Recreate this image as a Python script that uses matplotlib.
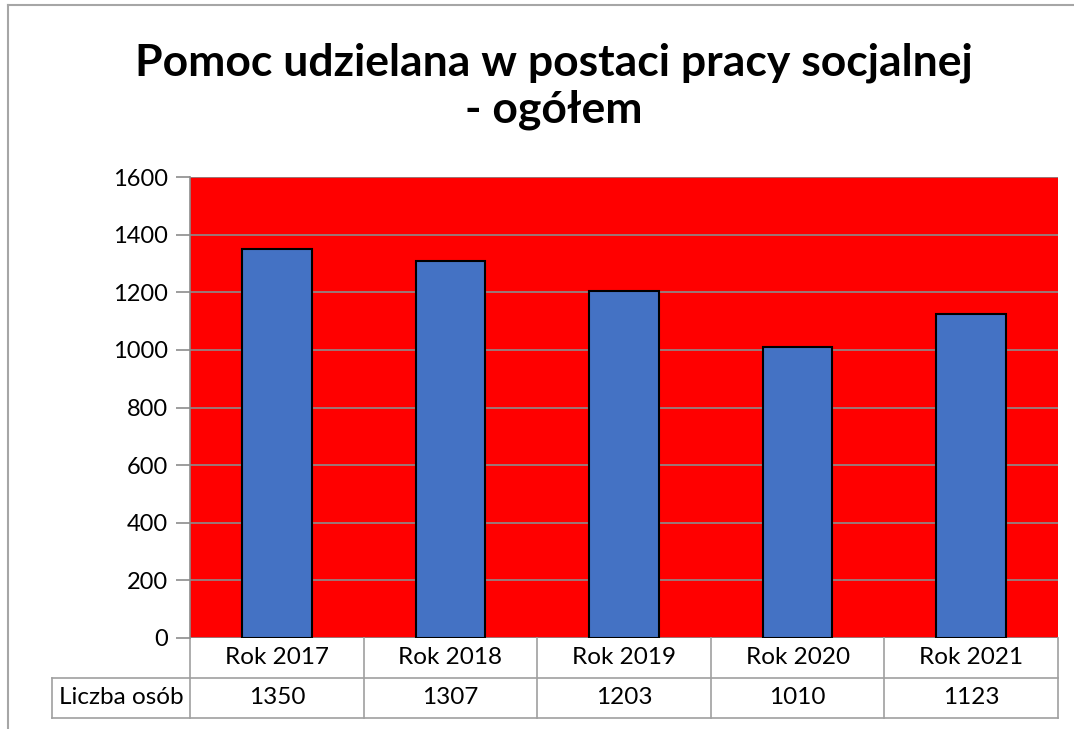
import matplotlib
matplotlib.use("Agg")
import matplotlib.pyplot as plt
from matplotlib.lines import Line2D

# dane
kategorie = ['Rok 2017', 'Rok 2018', 'Rok 2019', 'Rok 2020', 'Rok 2021']
liczba_osob = [1350, 1307, 1203, 1010, 1123]
etykieta_serii = 'Liczba osób'
tytul = 'Pomoc udzielana w postaci pracy socjalnej\n- ogółem'
y_ticks = [0, 200, 400, 600, 800, 1000, 1200, 1400, 1600]

plt.rcParams['font.family'] = ['Lato', 'DejaVu Sans']
W, H = 1074, 729
fig = plt.figure(figsize=(W/100, H/100), dpi=100)
fig.patch.set_facecolor('white')

ax = fig.add_axes([190/W, 1-638/H, 868/W, (638-177)/H])
ax.set_facecolor('#FF0000')
x = range(len(kategorie))
ax.bar(x, liczba_osob, width=0.4, color='#4472C4', edgecolor='black', linewidth=1.5, zorder=3)
ax.set_xlim(-0.5, len(kategorie)-0.5)
ax.set_ylim(0, 1600)
ax.set_yticks(y_ticks)
ax.set_yticklabels([str(t) for t in y_ticks], fontsize=17)
ax.yaxis.grid(True, color='#8c8c8c', linewidth=1.2, zorder=1)
ax.set_axisbelow(True)
ax.tick_params(axis='y', length=10, color='#8c8c8c', width=1.2, pad=6)
ax.set_xticks([])
for s in ['top', 'right', 'bottom']:
    ax.spines[s].set_visible(False)
ax.spines['left'].set_color('#8c8c8c')
ax.spines['left'].set_linewidth(1.2)

# tabela danych pod wykresem
rh = 40/461  # wysokosc wiersza w jednostkach osi
lab_w = 138/868
kol = '#a0a0a0'
tr = ax.transAxes
n = len(kategorie)
fs = 17.5
for i, (k, v) in enumerate(zip(kategorie, liczba_osob)):
    xc = (i + 0.5) / n
    ax.text(xc, -rh/2, k, transform=tr, ha='center', va='center', fontsize=fs)
    ax.text(xc, -1.5*rh, str(v), transform=tr, ha='center', va='center', fontsize=fs)
ax.text(-lab_w/2, -1.5*rh, etykieta_serii, transform=tr, ha='center', va='center', fontsize=fs)
linie = [([0, 1], [-rh, -rh]), ([-lab_w, 1], [-2*rh, -2*rh]), ([-lab_w, 0], [-rh, -rh]),
         ([-lab_w, -lab_w], [-rh, -2*rh])]
for i in range(n + 1):
    linie.append(([i/n, i/n], [0, -2*rh]))
for xs, ys in linie:
    ax.add_line(Line2D(xs, ys, transform=tr, color=kol, linewidth=1.2, clip_on=False))

fig.text(554/W, 1-86/H, tytul, ha='center', va='center', fontsize=32, fontweight='bold',
         linespacing=1.2)

# ramka wykresu
fig.add_artist(Line2D([8/W, 1], [1-5/H, 1-5/H], color='#a6a6a6', linewidth=1.5))
fig.add_artist(Line2D([8/W, 8/W], [1-5/H, 0], color='#a6a6a6', linewidth=1.5))

fig.savefig('out.png', dpi=100)
